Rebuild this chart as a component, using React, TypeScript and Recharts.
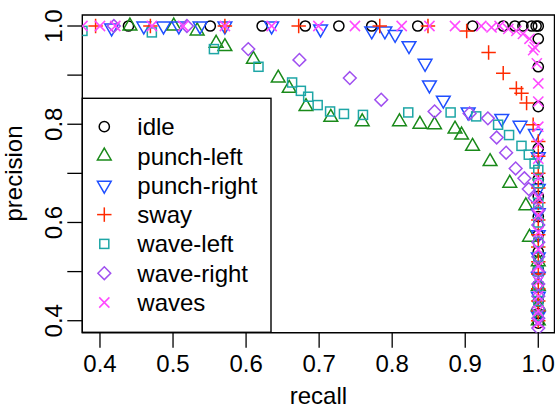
import React from 'react';
import { ScatterChart, Scatter, XAxis, YAxis, ReferenceArea } from 'recharts';

const classNames = ['idle', 'punch-left', 'punch-right', 'sway', 'wave-left', 'wave-right', 'waves'];
const classColors = ['#000000', '#1a8a1a', '#1f4fff', '#ff2a00', '#1ea6a6', '#a050f0', '#ff48ff'];
const classShapes = ['circle', 'triangleUp', 'triangleDown', 'plus', 'square', 'diamond', 'cross'];

const xTicks = [0.4, 0.5, 0.6, 0.7, 0.8, 0.9, 1.0];
const yTicks = [0.4, 0.5, 0.6, 0.7, 0.8, 0.9, 1.0];
const yLabelled = [0.4, 0.6, 0.8, 1.0];

const idleRecall = [0.439, 0.551, 0.622, 0.681, 0.727, 0.772, 0.835, 0.910, 0.952, 0.968, 0.979, 0.991, 0.997, 1.0, 1.0, 1.0, 1.0, 1.0, 1.0, 1.0, 1.0, 1.0, 1.0, 1.0, 1.0, 1.0, 1.0, 1.0];
const idlePrecision = [1, 1, 1, 1, 1, 1, 1, 1, 1, 1, 1, 1, 1, 1, 0.974, 0.917, 0.836, 0.751, 0.688, 0.653, 0.612, 0.575, 0.54, 0.505, 0.47, 0.44, 0.415, 0.395];

const punchLeftRecall = [0.441, 0.501, 0.533, 0.559, 0.571, 0.610, 0.644, 0.659, 0.682, 0.716, 0.759, 0.810, 0.838, 0.858, 0.886, 0.895, 0.910, 0.934, 0.961, 0.983, 0.988, 1.0, 1.0, 1.0, 1.0];
const punchLeftPrecision = [1.0, 1.0, 0.99, 0.965, 0.958, 0.932, 0.894, 0.873, 0.836, 0.814, 0.805, 0.805, 0.800, 0.799, 0.790, 0.778, 0.755, 0.724, 0.680, 0.634, 0.570, 0.52, 0.47, 0.43, 0.40];

const punchRightRecall = [0.416, 0.460, 0.487, 0.508, 0.537, 0.571, 0.635, 0.702, 0.772, 0.790, 0.804, 0.823, 0.845, 0.851, 0.870, 0.904, 0.950, 0.975, 0.996, 1.0, 1.0, 1.0, 1.0, 1.0, 1.0, 1.0, 1.0];
const punchRightPrecision = [0.996, 1.0, 1.0, 1.0, 1.0, 1.0, 1.0, 0.994, 0.990, 0.990, 0.983, 0.960, 0.924, 0.880, 0.849, 0.825, 0.812, 0.798, 0.781, 0.734, 0.669, 0.62, 0.575, 0.53, 0.49, 0.45, 0.41];

const swayRecall = [0.394, 0.469, 0.571, 0.672, 0.783, 0.849, 0.902, 0.932, 0.952, 0.970, 0.977, 0.984, 0.993, 1.0, 1.0, 1.0, 1.0, 1.0, 1.0, 1.0, 1.0, 1.0, 1.0, 1.0, 1.0, 1.0, 1.0];
const swayPrecision = [1, 1, 1, 1, 1, 1, 0.99, 0.946, 0.904, 0.873, 0.863, 0.843, 0.799, 0.765, 0.735, 0.70, 0.67, 0.64, 0.605, 0.575, 0.55, 0.52, 0.495, 0.465, 0.44, 0.42, 0.40];

const waveLeftRecall = [0.376, 0.471, 0.556, 0.617, 0.663, 0.675, 0.685, 0.698, 0.715, 0.734, 0.760, 0.822, 0.880, 0.915, 0.945, 0.960, 0.977, 0.987, 0.995, 1.0, 1.0, 1.0, 1.0, 1.0, 1.0, 1.0, 1.0, 1.0, 1.0];
const waveLeftPrecision = [0.99, 0.987, 0.953, 0.917, 0.885, 0.868, 0.856, 0.839, 0.826, 0.821, 0.819, 0.824, 0.824, 0.816, 0.799, 0.778, 0.756, 0.738, 0.720, 0.707, 0.68, 0.64, 0.60, 0.56, 0.53, 0.50, 0.47, 0.44, 0.41];

const waveRightRecall = [0.419, 0.519, 0.603, 0.673, 0.742, 0.785, 0.858, 0.906, 0.931, 0.943, 0.956, 0.969, 0.981, 0.987, 0.995, 1.0, 1.0, 1.0, 1.0, 1.0, 1.0, 1.0, 1.0, 1.0, 1.0];
const waveRightPrecision = [1.0, 1.0, 0.953, 0.931, 0.894, 0.850, 0.826, 0.822, 0.812, 0.773, 0.742, 0.710, 0.690, 0.668, 0.650, 0.625, 0.595, 0.56, 0.53, 0.50, 0.475, 0.45, 0.425, 0.405, 0.385];

const wavesRecall = [0.376, 0.400, 0.421, 0.471, 0.514, 0.571, 0.635, 0.699, 0.749, 0.813, 0.851, 0.886, 0.922, 0.936, 0.947, 0.959, 0.970, 0.979, 0.988, 0.995, 0.993, 0.998, 1.0, 1.0, 1.0, 1.0, 1.0, 1.0, 1.0, 1.0, 1.0, 1.0, 1.0, 1.0, 1.0, 1.0, 1.0];
const wavesPrecision = [1, 1, 1, 1, 1, 1, 1, 1, 1, 1, 1, 1, 1, 0.997, 1, 0.994, 0.990, 0.984, 0.974, 0.957, 0.951, 0.924, 0.883, 0.846, 0.795, 0.76, 0.73, 0.69, 0.65, 0.615, 0.58, 0.545, 0.51, 0.48, 0.45, 0.42, 0.395];

const recallSets = [idleRecall, punchLeftRecall, punchRightRecall, swayRecall, waveLeftRecall, waveRightRecall, wavesRecall];
const precisionSets = [idlePrecision, punchLeftPrecision, punchRightPrecision, swayPrecision, waveLeftPrecision, waveRightPrecision, wavesPrecision];

const series = classNames.map((name, i) => ({
  name,
  color: classColors[i],
  shape: classShapes[i],
  data: recallSets[i].map((r, j) => ({ recall: r, precision: precisionSets[i][j] })),
}));

const FONT = '"Liberation Sans", Arial, Helvetica, sans-serif';
const FS = 24;
const RAD = 5.1;
const SW = 1.5;

function Marker({ shape, cx, cy, color }: { shape: string; cx: number; cy: number; color: string }) {
  if (cx == null || cy == null || isNaN(cx) || isNaN(cy)) return null;
  const common = { fill: 'none', stroke: color, strokeWidth: SW };
  switch (shape) {
    case 'circle':
      return <circle cx={cx} cy={cy} r={RAD} {...common} />;
    case 'triangleUp': {
      const r = 1.5551 * RAD, xc = 1.3468 * RAD, yc = 0.7776 * RAD;
      return <polygon points={`${cx},${cy - r} ${cx + xc},${cy + yc} ${cx - xc},${cy + yc}`} {...common} />;
    }
    case 'triangleDown': {
      const r = 1.5551 * RAD, xc = 1.3468 * RAD, yc = 0.7776 * RAD;
      return <polygon points={`${cx},${cy + r} ${cx + xc},${cy - yc} ${cx - xc},${cy - yc}`} {...common} />;
    }
    case 'plus': {
      const h = 1.4142 * RAD;
      return (
        <g {...common}>
          <line x1={cx - h} y1={cy} x2={cx + h} y2={cy} />
          <line x1={cx} y1={cy - h} x2={cx} y2={cy + h} />
        </g>
      );
    }
    case 'square': {
      const h = 0.8862 * RAD;
      return <rect x={cx - h} y={cy - h} width={2 * h} height={2 * h} {...common} />;
    }
    case 'diamond': {
      const h = 1.2533 * RAD;
      return <polygon points={`${cx},${cy - h} ${cx + h},${cy} ${cx},${cy + h} ${cx - h},${cy}`} {...common} />;
    }
    case 'cross': {
      const h = RAD;
      return (
        <g {...common}>
          <line x1={cx - h} y1={cy - h} x2={cx + h} y2={cy + h} />
          <line x1={cx - h} y1={cy + h} x2={cx + h} y2={cy - h} />
        </g>
      );
    }
    default:
      return null;
  }
}

function XTick(props: any) {
  const { x, y, payload } = props;
  return (
    <text x={x} y={y + 23.8} textAnchor="middle" fontFamily={FONT} fontSize={FS} fill="#000">
      {Number(payload.value).toFixed(1)}
    </text>
  );
}

function YTick(props: any) {
  const { x, y, payload } = props;
  const v = Number(payload.value);
  if (!yLabelled.some((t) => Math.abs(t - v) < 1e-6)) return null;
  return (
    <text x={x} y={y} textAnchor="middle" fontFamily={FONT} fontSize={FS} fill="#000" transform={`rotate(-90 ${x} ${y})`}>
      {v.toFixed(1)}
    </text>
  );
}

const LEG_X = 82.3;
const LEG_Y = 98.3;
const LEG_W = 188.7;
const LEG_H = 234;
const LEG_ROW0 = 126.7;
const LEG_STEP = 29.3;

export default function App() {
  return (
    <div style={{ position: 'absolute', left: 0, top: 0, width: 555, height: 409, background: '#fff' }}>
      <ScatterChart width={555} height={409} margin={{ top: 15, right: 0.5, bottom: 0, left: 0 }}>
        <XAxis
          type="number"
          dataKey="recall"
          domain={[0.3758, 1.0222]}
          allowDataOverflow
          ticks={xTicks}
          interval={0}
          height={76.3}
          tickSize={15}
          tickMargin={0}
          axisLine={false}
          tickLine={{ stroke: '#000', strokeWidth: 1.3 }}
          tick={<XTick />}
        />
        <YAxis
          type="number"
          dataKey="precision"
          domain={[0.3756, 1.0224]}
          allowDataOverflow
          ticks={yTicks}
          interval={0}
          width={82.3}
          tickSize={15}
          tickMargin={5.3}
          axisLine={false}
          tickLine={{ stroke: '#000', strokeWidth: 1.3 }}
          tick={<YTick />}
        />
        <ReferenceArea x1={0.3758} x2={1.0222} y1={0.3756} y2={1.0224} fill="none" stroke="#000" strokeWidth={1.4} />
        {series.map((s) => (
          <Scatter
            key={s.name}
            name={s.name}
            data={s.data}
            isAnimationActive={false}
            shape={(p: any) => <Marker shape={s.shape} cx={p.cx} cy={p.cy} color={s.color} />}
          />
        ))}
      </ScatterChart>
      <svg width={555} height={409} style={{ position: 'absolute', left: 0, top: 0, pointerEvents: 'none' }}>
        <text x={318.4} y={403.5} textAnchor="middle" fontFamily={FONT} fontSize={FS} fill="#000">recall</text>
        <text x={21.5} y={173.5} textAnchor="middle" fontFamily={FONT} fontSize={FS} fill="#000" transform="rotate(-90 21.5 173.5)">precision</text>
        <rect x={LEG_X} y={LEG_Y} width={LEG_W} height={LEG_H} fill="#fff" stroke="#000" strokeWidth={1.4} />
        {series.map((s, i) => {
          const cy = LEG_ROW0 + i * LEG_STEP;
          return (
            <g key={s.name}>
              <Marker shape={s.shape} cx={104.3} cy={cy} color={s.color} />
              <text x={137.3} y={cy + 8.5} fontFamily={FONT} fontSize={FS} fill="#000">{s.name}</text>
            </g>
          );
        })}
      </svg>
    </div>
  );
}
